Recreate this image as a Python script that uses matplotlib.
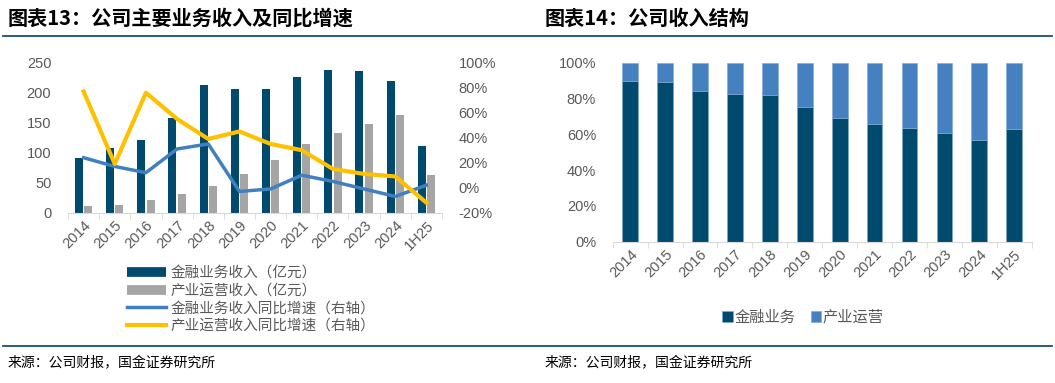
import numpy as np
import matplotlib.pyplot as plt
from matplotlib.lines import Line2D
from matplotlib.ticker import FuncFormatter

plt.rcParams['font.family'] = ['Liberation Sans', 'Noto Sans CJK SC', 'DejaVu Sans']

# 数据
years = ['2014', '2015', '2016', '2017', '2018', '2019', '2020', '2021', '2022', '2023', '2024', '1H25']
fin_rev = [92, 108, 121, 158, 213, 207, 206, 226, 238, 237, 220, 112]
ind_rev = [11, 13, 22, 32, 44, 64, 88, 114, 133, 148, 162, 63]
fin_yoy = [24, 17, 12, 31, 35, -3, -1, 10, 5, -1, -7, 2]
ind_yoy = [77, 19, 76, 55, 39, 45, 35, 30, 15, 11, 9, -12]
fin_share = [89.8, 89.4, 84.4, 82.3, 82.0, 75.2, 69.1, 65.6, 63.3, 60.5, 56.6, 63.0]
ind_share = [100 - v for v in fin_share]

navy = '#004A6E'
grey = '#A5A5A5'
blue = '#4080C0'
gold = '#FFC000'
txt = '#595959'
rule = '#1B4F72'
cjk = ['Noto Sans CJK SC', 'DejaVu Sans']

fig = plt.figure(figsize=(10.55, 3.83), dpi=100)

# 标题与分隔线
fig.text(8 / 1055, 1 - 18 / 383, '图表13：公司主要业务收入及同比增速', fontsize=14.5, fontweight='black',
         va='center', ha='left', color='black', family=cjk)
fig.text(545 / 1055, 1 - 18 / 383, '图表14：公司收入结构', fontsize=14.5, fontweight='black',
         va='center', ha='left', color='black', family=cjk)
fig.add_artist(Line2D([3 / 1055, 1052 / 1055], [1 - 36 / 383] * 2, color=rule, lw=1.3))
fig.add_artist(Line2D([3 / 1055, 1052 / 1055], [1 - 346 / 383] * 2, color=rule, lw=1.3))
fig.text(8 / 1055, 1 - 363 / 383, '来源：公司财报，国金证券研究所', fontsize=10, va='center', ha='left',
         color='black', family=cjk)
fig.text(545 / 1055, 1 - 363 / 383, '来源：公司财报，国金证券研究所', fontsize=10, va='center', ha='left',
         color='black', family=cjk)

x = np.arange(len(years))

# 左图
ax = fig.add_axes([68 / 1055, 1 - 212.7 / 383, 374 / 1055, 150 / 383])
b1 = ax.bar(x - 0.15, fin_rev, width=0.26, color=navy, zorder=2)
b2 = ax.bar(x + 0.15, ind_rev, width=0.26, color=grey, zorder=2)
ax.set_ylim(0, 250)
ax.set_yticks(range(0, 251, 50))
ax.set_xlim(-0.5, len(years) - 0.5)
ax.set_xticks(x)
ax.set_xticklabels(years, rotation=45, ha='right', rotation_mode='anchor')
ax.set_xticks(np.arange(-0.5, len(years), 1), minor=True)
ax.tick_params(axis='x', which='major', length=0, labelsize=10.5, colors=txt, pad=4)
ax.tick_params(axis='x', which='minor', length=4, color='#D9D9D9')
ax.tick_params(axis='y', length=0, labelsize=10.5, colors=txt, pad=12)
for s in ['top', 'right', 'left']:
    ax.spines[s].set_visible(False)
ax.spines['bottom'].set_color('#D9D9D9')

ax2 = ax.twinx()
l1, = ax2.plot(x, fin_yoy, color=blue, lw=2.5, zorder=3)
l2, = ax2.plot(x, ind_yoy, color=gold, lw=3, zorder=3)
ax2.set_ylim(-20, 100)
ax2.set_yticks(range(-20, 101, 20))
ax2.yaxis.set_major_formatter(FuncFormatter(lambda v, p: f'{v:.0f}%'))
ax2.tick_params(axis='y', length=0, labelsize=10.5, colors=txt, pad=12)
for s in ['top', 'right', 'left', 'bottom']:
    ax2.spines[s].set_visible(False)

h1 = Line2D([], [], color=navy, lw=7, solid_capstyle='butt')
h2 = Line2D([], [], color=grey, lw=7, solid_capstyle='butt')
h3 = Line2D([], [], color=blue, lw=2.5)
h4 = Line2D([], [], color=gold, lw=3)
leg = fig.legend([h1, h2, h3, h4],
                 ['金融业务收入（亿元）', '产业运营收入（亿元）', '金融业务收入同比增速（右轴）', '产业运营收入同比增速（右轴）'],
                 loc='upper left', bbox_to_anchor=(127 / 1055, 1 - 266 / 383), frameon=False,
                 prop={'family': cjk, 'size': 10.5}, handlelength=2.7, handletextpad=0.3, labelspacing=0.25,
                 borderpad=0, borderaxespad=0)
for t in leg.get_texts():
    t.set_color(txt)

# 右图
ax3 = fig.add_axes([612.7 / 1055, 1 - 241.7 / 383, 419 / 1055, 179 / 383])
ax3.bar(x, fin_share, width=0.45, color=navy, edgecolor='#7FA7CF', linewidth=0.4, label='金融业务', zorder=2)
ax3.bar(x, ind_share, width=0.45, bottom=fin_share, color='#4581C0', edgecolor='#7FA7CF', linewidth=0.4,
        label='产业运营', zorder=2)
ax3.set_ylim(0, 100)
ax3.set_yticks(range(0, 101, 20))
ax3.yaxis.set_major_formatter(FuncFormatter(lambda v, p: f'{v:.0f}%'))
ax3.set_xlim(-0.5, len(years) - 0.5)
ax3.set_xticks(x)
ax3.set_xticklabels(years, rotation=45, ha='right', rotation_mode='anchor')
ax3.set_xticks(np.arange(-0.5, len(years), 1), minor=True)
ax3.tick_params(axis='x', which='major', length=0, labelsize=10.5, colors=txt, pad=4)
ax3.tick_params(axis='x', which='minor', length=4, color='#D9D9D9')
ax3.tick_params(axis='y', length=0, labelsize=10.5, colors=txt, pad=12)
for s in ['top', 'right', 'left']:
    ax3.spines[s].set_visible(False)
ax3.spines['bottom'].set_color('#D9D9D9')
leg2 = ax3.legend(loc='center', bbox_to_anchor=(803 / 1055, 1 - 317 / 383), bbox_transform=fig.transFigure,
                  ncol=2, frameon=False, prop={'family': cjk, 'size': 11}, handlelength=0.7, handleheight=0.7,
                  handletextpad=0.1, columnspacing=1.0, borderpad=0)
for t in leg2.get_texts():
    t.set_color(txt)

fig.savefig('out.png', dpi=100)
